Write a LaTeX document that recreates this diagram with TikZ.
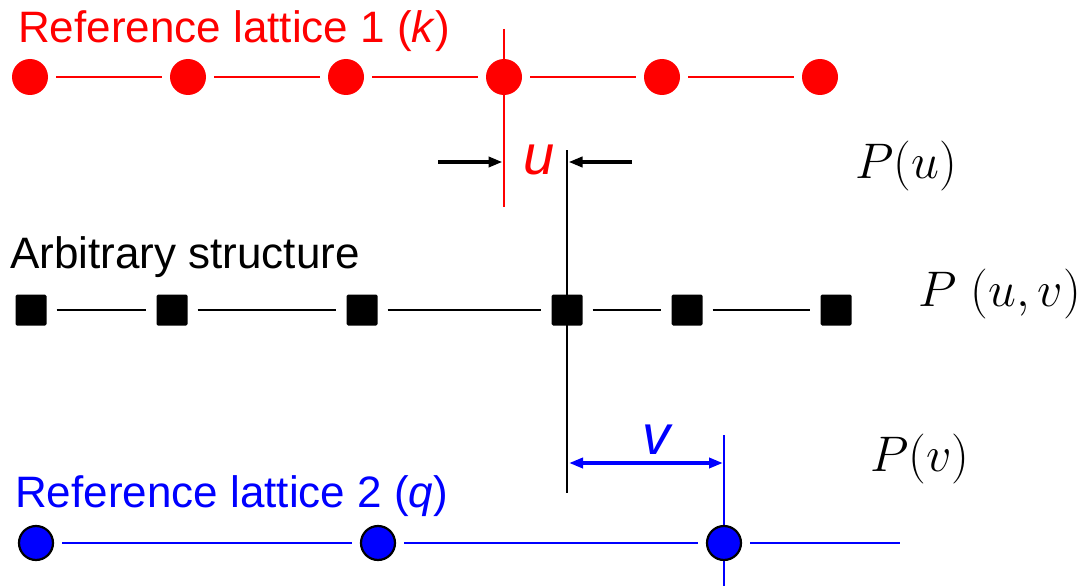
\RequirePackage{fix-cm}
\documentclass[tikz,border=0pt]{standalone}
\usepackage{fontspec}
\setmainfont{Liberation Sans}
\usetikzlibrary{arrows.meta,backgrounds}
\definecolor{latred}{RGB}{255,0,0}
\definecolor{latblue}{RGB}{0,0,255}
\tikzset{
  redatom/.style={circle,fill=latred,draw=none,minimum size=36pt,inner sep=0pt},
  blueatom/.style={circle,fill=latblue,draw=black,line width=2.2pt,minimum size=34pt,inner sep=0pt},
  blackatom/.style={rectangle,fill=black,rounded corners=1.5pt,minimum size=31pt,inner sep=0pt},
  bondred/.style={draw=latred,line width=2.4pt,shorten <=8pt,shorten >=8pt},
  bondblue/.style={draw=latblue,line width=2.4pt,shorten <=8pt,shorten >=8pt},
  bondblack/.style={draw=black,line width=2.4pt,shorten <=10pt,shorten >=10pt},
  guide/.style={line width=1.8pt},
  tip/.style={Triangle[length=14pt,width=10pt]},
  dimarrow/.style={line width=3.6pt,-{Triangle[length=14pt,width=10pt]}},
  title/.style={font=\fontsize{44}{50}\selectfont,inner sep=0pt,anchor=base west},
  varlabel/.style={font=\fontsize{56}{60}\selectfont\itshape,inner sep=0pt},
  plabel/.style={font=\fontsize{50}{54}\selectfont,inner sep=0pt,anchor=west},
}
\begin{document}
\begin{tikzpicture}[x=1pt,y=-1pt]
\useasboundingbox (0,0) rectangle (1088,586);

% end points of the guide lines
\coordinate (rtop) at (504,29);
\coordinate (rbot) at (504,207);
\coordinate (ktop) at (567,150);
\coordinate (kbot) at (567,493);
\coordinate (btop) at (724,435);
\coordinate (bbot) at (724,586);

% dimension arrow ends
\coordinate (uL) at (438,162);
\coordinate (uLtip) at (502.5,162);
\coordinate (uR) at (632,162);
\coordinate (uRtip) at (568.5,162);
\coordinate (vL) at (569,463);
\coordinate (vR) at (723,463);

% reference lattice 1
\foreach \i/\x in {1/30,2/188,3/346,4/504,5/662,6/820}
  \node[redatom] (r\i) at (\x,77) {};
\foreach \i/\j in {1/2,2/3,3/4,4/5,5/6}
  \draw[bondred] (r\i) -- (r\j);

% arbitrary structure
\foreach \i/\x in {1/31,2/172,3/362,4/567,5/687,6/836}
  \node[blackatom] (s\i) at (\x,310) {};
\foreach \i/\j in {1/2,2/3,3/4,4/5,5/6}
  \draw[bondblack] (s\i) -- (s\j);

% reference lattice 2
\foreach \i/\x in {1/36,2/378,3/724}
  \node[blueatom] (b\i) at (\x,543) {};
\coordinate (bend) at (900,543);
\foreach \i/\j in {1/2,2/3}
  \draw[bondblue] (b\i) -- (b\j);
\draw[bondblue,shorten >=0pt] (b3) -- (bend);

% guide lines behind the atoms
\begin{pgfonlayer}{background}
  \draw[guide,latred] (rtop) -- (rbot);
  \draw[guide,black] (ktop) -- (kbot);
  \draw[guide,latblue] (btop) -- (bbot);
\end{pgfonlayer}

% displacement u
\draw[dimarrow,black] (uL) -- (uLtip);
\draw[dimarrow,black] (uR) -- (uRtip);
\node[varlabel,text=latred] (ulab) at (539,160) {u};

% displacement v
\draw[line width=3.6pt,latblue,{Triangle[length=14pt,width=10pt]}-{Triangle[length=14pt,width=10pt]}] (vL) -- (vR);
\node[varlabel,text=latblue] (vlab) at (656,440) {v};

% titles
\node[title,text=latred] (t1) at (18,43) {Reference lattice 1 (\textit{k})};
\node[title,text=black] (t2) at (10,268) {Arbitrary structure};
\node[title,text=latblue] (t3) at (15,507) {Reference lattice 2 (\textit{q})};

% probability labels
\node[plabel] (pu) at (855,166) {$P(u)$};
\node[plabel] (puv) at (918,294) {$P\ (u,v)$};
\node[plabel] (pv) at (870,459) {$P(v)$};
\end{tikzpicture}
\end{document}
